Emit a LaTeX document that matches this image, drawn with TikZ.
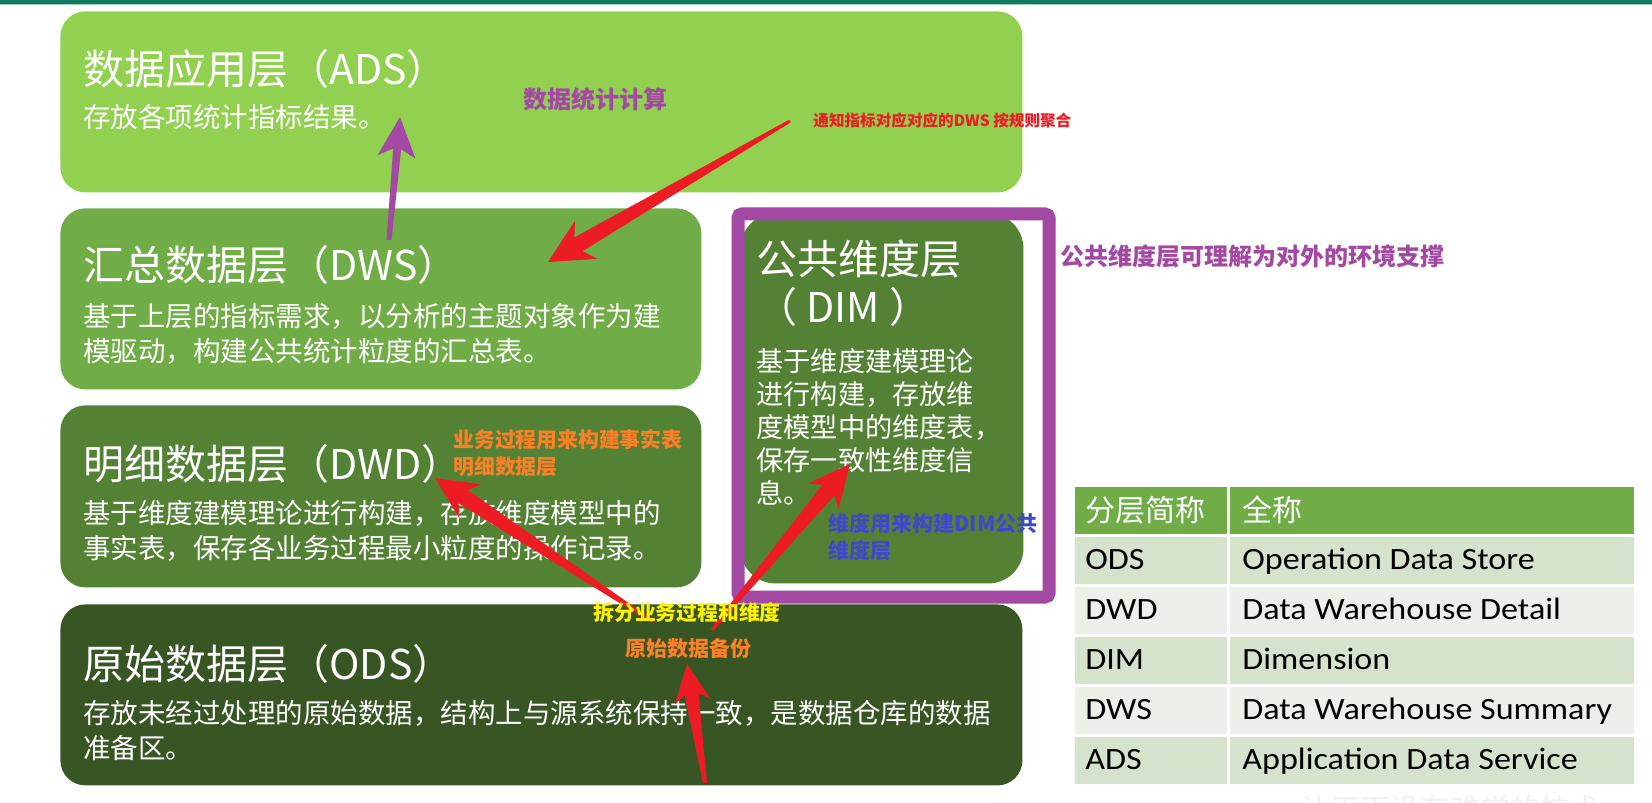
\documentclass[tikz,border=0pt]{standalone}
\usepackage{fontspec}
\usetikzlibrary{calc}
\newfontfamily\cjk{Noto Sans CJK SC}
\newfontfamily\tabfont[FakeStretch=1.1]{Carlito}
\definecolor{TopBar}{HTML}{0F7B5F}
\definecolor{AdsGreen}{HTML}{92D050}
\definecolor{DwsGreen}{HTML}{70AD47}
\definecolor{DwdGreen}{HTML}{548235}
\definecolor{OdsGreen}{HTML}{375623}
\definecolor{NotePurple}{HTML}{A349A4}
\definecolor{NoteRed}{HTML}{ED1C24}
\definecolor{NoteOrange}{HTML}{FF7F27}
\definecolor{NoteYellow}{HTML}{FFF200}
\definecolor{NoteBlue}{HTML}{3F48CC}
\definecolor{RowDark}{HTML}{D5E3CD}
\definecolor{RowLight}{HTML}{EBF1E8}
% tapered arrow: colour, tail, tip, tail/neck/head half widths, head length
\newcommand{\fatarrow}[7]{%
 \path ($(#3)!#7!(#2)$) coordinate (barb) ($(#3)!{0.8*#7}!(#2)$) coordinate (neck);
 \fill[#1] ($(#2)!#4!90:(#3)$)--($(neck)!#5!90:(#3)$)--($(barb)!#6!90:(#3)$)--(#3)
 --($(barb)!#6!-90:(#3)$)--($(neck)!#5!-90:(#3)$)--($(#2)!#4!-90:(#3)$)--cycle;}

\begin{document}
\begin{tikzpicture}[x=0.5pt,y=-0.5pt,
 layer/.style={rounded corners=12.5pt,anchor=north west,inner sep=0pt,minimum height=90.5pt},
 title/.style={anchor=base west,inner sep=0pt,text=white,align=left,
 font=\cjk\fontsize{20.5pt}{24pt}\selectfont},
 body/.style={anchor=base west,inner sep=0pt,text=white,align=left,
 font=\cjk\fontsize{13.75pt}{17.5pt}\selectfont},
 note/.style={anchor=west,inner sep=0pt,align=left,font=\cjk\bfseries},
 cell/.style={anchor=north west,inner sep=0pt,draw=white,line width=1.5pt,minimum height=25pt},
 celltext/.style={anchor=base west,inner sep=0pt,font=\tabfont\fontsize{15.5pt}{18pt}\selectfont}]
\fill[white] (0,0) rectangle (1652,802);
\useasboundingbox (0,0) rectangle (1652,802);
\fill[TopBar] (0,0) rectangle (1652,4);
\fill[TopBar!40] (0,4) rectangle (1652,5.5);
% layers
\node[layer,fill=AdsGreen,minimum width=481pt] (ads) at (60,11) {};
\node[layer,fill=DwsGreen,minimum width=320.5pt] (dws) at (60,208) {};
\node[layer,fill=DwdGreen,minimum width=320.5pt,minimum height=91pt] (dwd) at (60,405) {};
\node[layer,fill=OdsGreen,minimum width=481pt] (ods) at (60,604) {};
\node[layer,fill=DwdGreen,rounded corners=17.5pt,minimum width=141.5pt,minimum height=185pt] (dim) at (740,213) {};
\node[draw=NotePurple,line width=6.5pt,rounded corners=2pt,anchor=north west,inner sep=0pt,
 minimum width=155.5pt,minimum height=191.5pt] (dimframe) at (731.5,207.5) {};
% multi-line texts sit on the baseline of their last line
\node[title] (adsT) at (83,85) {数据应用层（ADS）};
\node[body] (adsB) at (83,128) {存放各项统计指标结果。};
\node[title] (dwsT) at (83,280) {汇总数据层（DWS）};
\node[body] (dwsB) at (83,361) {基于上层的指标需求，以分析的主题对象作为建\\模驱动，构建公共统计粒度的汇总表。};
\node[title] (dwdT) at (83,479) {明细数据层（DWD）};
\node[body] (dwdB) at (83,558) {基于维度建模理论进行构建，存放维度模型中的\\事实表，保存各业务过程最小粒度的操作记录。};
\node[title] (odsT) at (83,679) {原始数据层（ODS）};
\node[body] (odsB) at (83,758) {存放未经过处理的原始数据，结构上与源系统保持一致，是数据仓库的数据\\准备区。};
\node[title] (dimT) at (756,322) {公共维度层\\（ DIM ）};
\node[body,font=\cjk\fontsize{13.6pt}{16.5pt}\selectfont] (dimB) at (756,503)
 {基于维度建模理论\\进行构建，存放维\\度模型中的维度表，\\保存一致性维度信\\息。};
% table
\node[cell,fill=DwsGreen,minimum width=77.5pt] (headA) at (1072,484) {};
\node[cell,fill=DwsGreen,minimum width=203.5pt] (headB) at (1227,484) {};
\node[celltext,text=white,font=\cjk\fontsize{15pt}{18pt}\selectfont] (headAT) at (1085,521) {分层简称};
\node[celltext,text=white,font=\cjk\fontsize{15pt}{18pt}\selectfont] (headBT) at (1242,521) {全称};
\foreach \abbr/\full [count=\i] in {ODS/Operation Data Store,DWD/Data Warehouse Detail,
 DIM/Dimension,DWS/Data Warehouse Summary,ADS/Application Data Service}{
 \ifodd\i \def\rowcol{RowDark}\else\def\rowcol{RowLight}\fi
 \node[cell,fill=\rowcol,minimum width=77.5pt] (abbr\i) at (1072,484+50*\i) {};
 \node[cell,fill=\rowcol,minimum width=203.5pt] (full\i) at (1227,484+50*\i) {};
 \node[celltext] (abbrT\i) at (1085,519+50*\i) {\abbr};
 \node[celltext] (fullT\i) at (1242,519+50*\i) {\full};
}
\node[anchor=north west,inner sep=0pt,text=black!6,font=\cjk\fontsize{15pt}{15pt}\selectfont]
 (mark) at (1300,795) {让天下没有难学的技术};
% arrows
\coordinate (statTail) at (389,240);\coordinate (statTip) at (400,117);
\coordinate (aggTail) at (790,121);\coordinate (aggTip) at (548,262);
\coordinate (factTail) at (653,622);\coordinate (factTip) at (435,478);
\coordinate (dimTail) at (712,630);\coordinate (dimTip) at (850,464);
\coordinate (odsTail) at (705,783);\coordinate (odsTip) at (687,664);
\fatarrow{NotePurple}{statTail}{statTip}{1.25pt}{2pt}{9.5pt}{20pt}
\fatarrow{NoteRed}{aggTail}{aggTip}{0.75pt}{4pt}{11pt}{22pt}
\fatarrow{NoteRed}{factTail}{factTip}{0.75pt}{4pt}{10pt}{21pt}
\fatarrow{NoteRed}{dimTail}{dimTip}{0.75pt}{4pt}{10pt}{21pt}
\fatarrow{NoteRed}{odsTail}{odsTip}{1pt}{3.5pt}{9pt}{19pt}
% notes
\node[note,text=NotePurple,font=\cjk\bfseries\fontsize{12pt}{14pt}\selectfont] (statN) at (523,99) {数据统计计算};
\node[note,text=NoteRed,font=\cjk\bfseries\fontsize{7.8pt}{9pt}\selectfont] (aggN) at (813,121) {通知指标对应对应的DWS 按规则聚合};
\node[note,text=NotePurple,font=\cjk\bfseries\fontsize{12pt}{14pt}\selectfont] (envN) at (1060,256) {公共维度层可理解为对外的环境支撑};
\node[note,anchor=base west,text=NoteOrange,font=\cjk\bfseries\fontsize{10.4pt}{13.5pt}\selectfont] (factN) at (453,474) {业务过程用来构建事实表\\明细数据层};
\node[note,anchor=base west,text=NoteBlue,font=\cjk\bfseries\fontsize{10.5pt}{13.5pt}\selectfont] (dimN) at (828,558) {维度用来构建DIM公共\\维度层};
\node[note,text=NoteYellow,font=\cjk\bfseries\fontsize{10.4pt}{12pt}\selectfont] (splitN) at (593,613) {拆分业务过程和维度};
\node[note,text=NoteOrange,font=\cjk\bfseries\fontsize{10.5pt}{12pt}\selectfont] (backupN) at (625,649) {原始数据备份};
\end{tikzpicture}
\end{document}
